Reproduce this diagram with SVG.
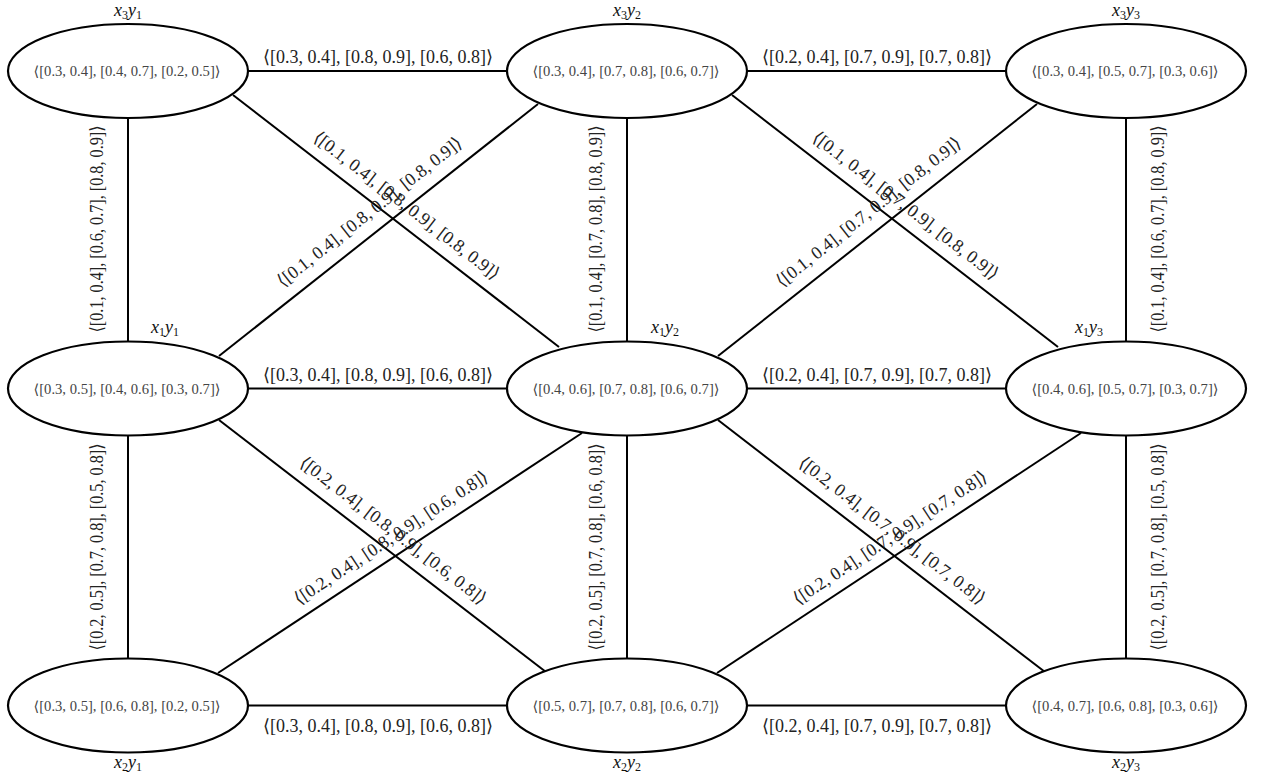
<svg xmlns="http://www.w3.org/2000/svg" width="1268" height="778" viewBox="0 0 1268 778">
<style>
.nd{fill:#fff;stroke:#000;stroke-width:2.2}
.nl{font-family:"Liberation Serif","DejaVu Serif",serif;font-size:14px;fill:#444;text-anchor:middle}
.el{font-family:"Liberation Serif","DejaVu Serif",serif;font-size:18px;fill:#222;text-anchor:middle}
.nm{font-family:"Liberation Serif","DejaVu Serif",serif;font-size:18px;fill:#111;text-anchor:middle;font-style:italic}
.sb{font-size:12px;font-style:normal}
.cn line{stroke:#000;stroke-width:2}
</style>
<rect width="1268" height="778" fill="#fff"/>
<g class="cn" id="connectors">
<line x1="248" y1="71" x2="507" y2="71"/>
<line x1="747" y1="71" x2="1006" y2="71"/>
<line x1="248" y1="388.5" x2="507" y2="388.5"/>
<line x1="747" y1="388.5" x2="1006" y2="388.5"/>
<line x1="248" y1="705.5" x2="507" y2="705.5"/>
<line x1="747" y1="705.5" x2="1006" y2="705.5"/>
<line x1="128" y1="118" x2="128" y2="341.5"/>
<line x1="627" y1="118" x2="627" y2="341.5"/>
<line x1="1126" y1="118" x2="1126" y2="341.5"/>
<line x1="128" y1="435.5" x2="128" y2="658.5"/>
<line x1="627" y1="435.5" x2="627" y2="658.5"/>
<line x1="1126" y1="435.5" x2="1126" y2="658.5"/>
<line x1="233" y1="95" x2="559" y2="347"/>
<line x1="219" y1="356" x2="538" y2="104"/>
<line x1="732" y1="95" x2="1058" y2="347"/>
<line x1="718" y1="356" x2="1037" y2="104"/>
<line x1="219" y1="420" x2="546" y2="672"/>
<line x1="218" y1="673" x2="582" y2="433"/>
<line x1="718" y1="420" x2="1045" y2="672"/>
<line x1="717" y1="673" x2="1081" y2="433"/>
<text class="el" x="378" y="63" textLength="230" lengthAdjust="spacingAndGlyphs">⟨[0.3, 0.4], [0.8, 0.9], [0.6, 0.8]⟩</text>
<text class="el" x="877" y="63" textLength="230" lengthAdjust="spacingAndGlyphs">⟨[0.2, 0.4], [0.7, 0.9], [0.7, 0.8]⟩</text>
<text class="el" x="378" y="380.5" textLength="230" lengthAdjust="spacingAndGlyphs">⟨[0.3, 0.4], [0.8, 0.9], [0.6, 0.8]⟩</text>
<text class="el" x="877" y="380.5" textLength="230" lengthAdjust="spacingAndGlyphs">⟨[0.2, 0.4], [0.7, 0.9], [0.7, 0.8]⟩</text>
<text class="el" x="378" y="732" textLength="230" lengthAdjust="spacingAndGlyphs">⟨[0.3, 0.4], [0.8, 0.9], [0.6, 0.8]⟩</text>
<text class="el" x="877" y="732" textLength="230" lengthAdjust="spacingAndGlyphs">⟨[0.2, 0.4], [0.7, 0.9], [0.7, 0.8]⟩</text>
<text class="el" transform="translate(103,229) rotate(-90)" textLength="207" lengthAdjust="spacingAndGlyphs">⟨[0.1, 0.4], [0.6, 0.7], [0.8, 0.9]⟩</text>
<text class="el" transform="translate(602,229) rotate(-90)" textLength="207" lengthAdjust="spacingAndGlyphs">⟨[0.1, 0.4], [0.7, 0.8], [0.8, 0.9]⟩</text>
<text class="el" transform="translate(1164,229) rotate(-90)" textLength="207" lengthAdjust="spacingAndGlyphs">⟨[0.1, 0.4], [0.6, 0.7], [0.8, 0.9]⟩</text>
<text class="el" transform="translate(103,547) rotate(-90)" textLength="207" lengthAdjust="spacingAndGlyphs">⟨[0.2, 0.5], [0.7, 0.8], [0.5, 0.8]⟩</text>
<text class="el" transform="translate(602,547) rotate(-90)" textLength="207" lengthAdjust="spacingAndGlyphs">⟨[0.2, 0.5], [0.7, 0.8], [0.6, 0.8]⟩</text>
<text class="el" transform="translate(1164,547) rotate(-90)" textLength="207" lengthAdjust="spacingAndGlyphs">⟨[0.2, 0.5], [0.7, 0.8], [0.5, 0.8]⟩</text>
<text class="el" transform="translate(396,221) rotate(37.7)" x="-1" y="-13" textLength="230" lengthAdjust="spacingAndGlyphs">⟨[0.1, 0.4], [0.8, 0.9], [0.8, 0.9]⟩</text>
<text class="el" transform="translate(378.5,230) rotate(-38.3)" x="4" y="-14" textLength="230" lengthAdjust="spacingAndGlyphs">⟨[0.1, 0.4], [0.8, 0.9], [0.8, 0.9]⟩</text>
<text class="el" transform="translate(895,221) rotate(37.7)" x="-1" y="-13" textLength="230" lengthAdjust="spacingAndGlyphs">⟨[0.1, 0.4], [0.7, 0.9], [0.8, 0.9]⟩</text>
<text class="el" transform="translate(877.5,230) rotate(-38.3)" x="4" y="-14" textLength="230" lengthAdjust="spacingAndGlyphs">⟨[0.1, 0.4], [0.7, 0.9], [0.8, 0.9]⟩</text>
<text class="el" transform="translate(382.5,546) rotate(37.6)" x="-1" y="-13" textLength="230" lengthAdjust="spacingAndGlyphs">⟨[0.2, 0.4], [0.8, 0.9], [0.6, 0.8]⟩</text>
<text class="el" transform="translate(400,553) rotate(-33.4)" x="1" y="-12" textLength="228" lengthAdjust="spacingAndGlyphs">⟨[0.2, 0.4], [0.8, 0.9], [0.6, 0.8]⟩</text>
<text class="el" transform="translate(881.5,546) rotate(37.6)" x="-1" y="-13" textLength="230" lengthAdjust="spacingAndGlyphs">⟨[0.2, 0.4], [0.7, 0.9], [0.7, 0.8]⟩</text>
<text class="el" transform="translate(899,553) rotate(-33.4)" x="1" y="-12" textLength="228" lengthAdjust="spacingAndGlyphs">⟨[0.2, 0.4], [0.7, 0.9], [0.7, 0.8]⟩</text>
</g>
<g id="x3y1"><ellipse class="nd" cx="128" cy="71" rx="120" ry="47"/><text class="nl" x="127" y="76" textLength="187" lengthAdjust="spacingAndGlyphs">⟨[0.3, 0.4], [0.4, 0.7], [0.2, 0.5]⟩</text><text class="nm" x="128" y="16">x<tspan class="sb" dy="3">3</tspan><tspan dy="-3">y</tspan><tspan class="sb" dy="3">1</tspan></text></g>
<g id="x3y2"><ellipse class="nd" cx="627" cy="71" rx="120" ry="47"/><text class="nl" x="626" y="76" textLength="187" lengthAdjust="spacingAndGlyphs">⟨[0.3, 0.4], [0.7, 0.8], [0.6, 0.7]⟩</text><text class="nm" x="627" y="16">x<tspan class="sb" dy="3">3</tspan><tspan dy="-3">y</tspan><tspan class="sb" dy="3">2</tspan></text></g>
<g id="x3y3"><ellipse class="nd" cx="1126" cy="71" rx="120" ry="47"/><text class="nl" x="1125" y="76" textLength="187" lengthAdjust="spacingAndGlyphs">⟨[0.3, 0.4], [0.5, 0.7], [0.3, 0.6]⟩</text><text class="nm" x="1126" y="16">x<tspan class="sb" dy="3">3</tspan><tspan dy="-3">y</tspan><tspan class="sb" dy="3">3</tspan></text></g>
<g id="x1y1"><ellipse class="nd" cx="128" cy="388.5" rx="120" ry="47"/><text class="nl" x="127" y="393.5" textLength="187" lengthAdjust="spacingAndGlyphs">⟨[0.3, 0.5], [0.4, 0.6], [0.3, 0.7]⟩</text><text class="nm" x="165" y="333">x<tspan class="sb" dy="3">1</tspan><tspan dy="-3">y</tspan><tspan class="sb" dy="3">1</tspan></text></g>
<g id="x1y2"><ellipse class="nd" cx="627" cy="388.5" rx="120" ry="47"/><text class="nl" x="626" y="393.5" textLength="187" lengthAdjust="spacingAndGlyphs">⟨[0.4, 0.6], [0.7, 0.8], [0.6, 0.7]⟩</text><text class="nm" x="665" y="333">x<tspan class="sb" dy="3">1</tspan><tspan dy="-3">y</tspan><tspan class="sb" dy="3">2</tspan></text></g>
<g id="x1y3"><ellipse class="nd" cx="1126" cy="388.5" rx="120" ry="47"/><text class="nl" x="1125" y="393.5" textLength="187" lengthAdjust="spacingAndGlyphs">⟨[0.4, 0.6], [0.5, 0.7], [0.3, 0.7]⟩</text><text class="nm" x="1089" y="333">x<tspan class="sb" dy="3">1</tspan><tspan dy="-3">y</tspan><tspan class="sb" dy="3">3</tspan></text></g>
<g id="x2y1"><ellipse class="nd" cx="128" cy="705.5" rx="120" ry="47"/><text class="nl" x="127" y="710.5" textLength="187" lengthAdjust="spacingAndGlyphs">⟨[0.3, 0.5], [0.6, 0.8], [0.2, 0.5]⟩</text><text class="nm" x="128" y="768">x<tspan class="sb" dy="3">2</tspan><tspan dy="-3">y</tspan><tspan class="sb" dy="3">1</tspan></text></g>
<g id="x2y2"><ellipse class="nd" cx="627" cy="705.5" rx="120" ry="47"/><text class="nl" x="626" y="710.5" textLength="187" lengthAdjust="spacingAndGlyphs">⟨[0.5, 0.7], [0.7, 0.8], [0.6, 0.7]⟩</text><text class="nm" x="627" y="768">x<tspan class="sb" dy="3">2</tspan><tspan dy="-3">y</tspan><tspan class="sb" dy="3">2</tspan></text></g>
<g id="x2y3"><ellipse class="nd" cx="1126" cy="705.5" rx="120" ry="47"/><text class="nl" x="1125" y="710.5" textLength="187" lengthAdjust="spacingAndGlyphs">⟨[0.4, 0.7], [0.6, 0.8], [0.3, 0.6]⟩</text><text class="nm" x="1126" y="768">x<tspan class="sb" dy="3">2</tspan><tspan dy="-3">y</tspan><tspan class="sb" dy="3">3</tspan></text></g>
</svg>
